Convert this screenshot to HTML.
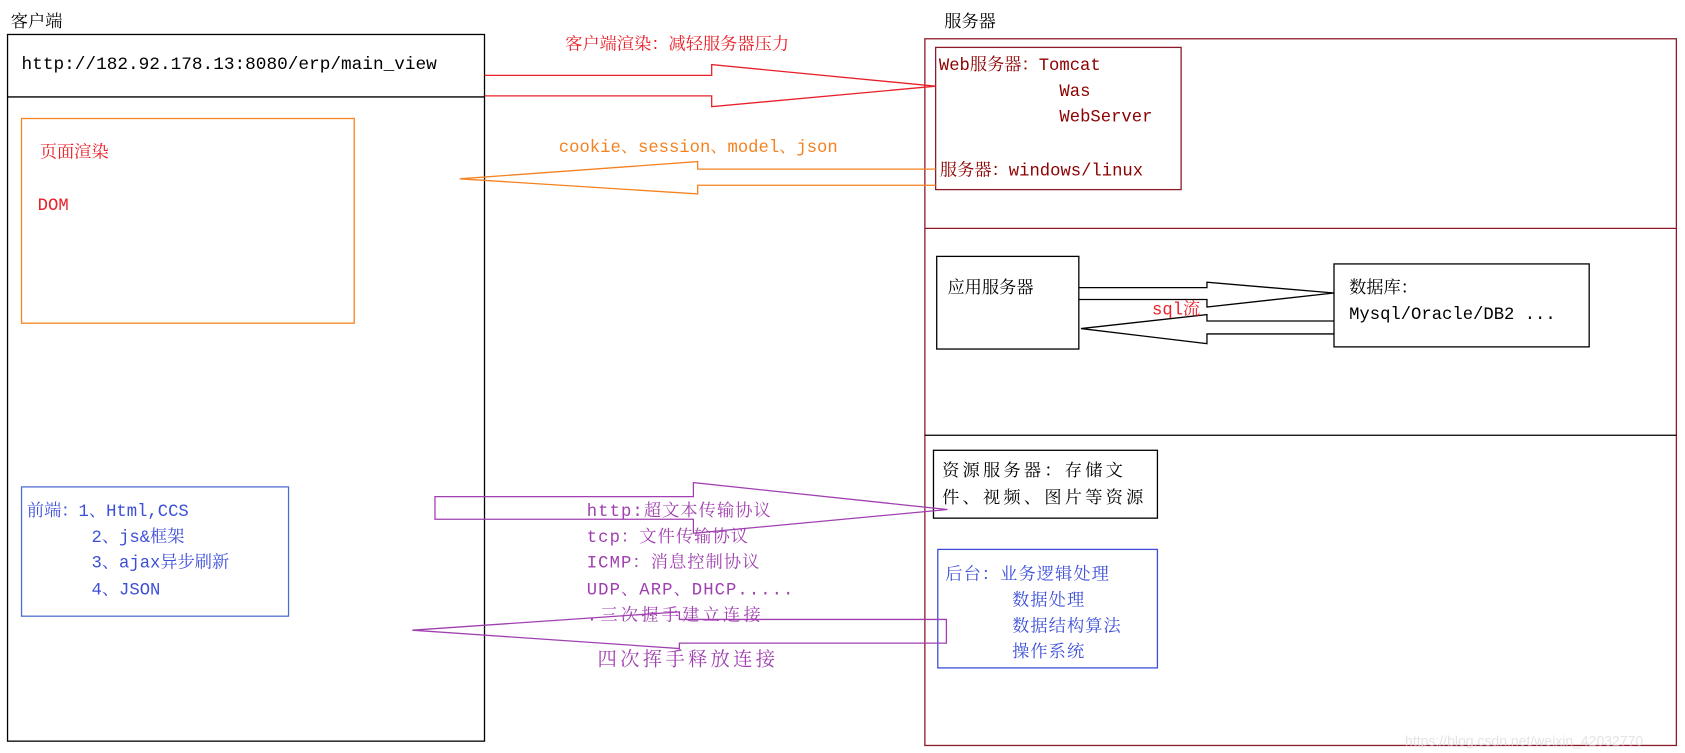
<!DOCTYPE html>
<html><head><meta charset="utf-8"><style>
html,body{margin:0;padding:0;background:#fff;width:1685px;height:753px;overflow:hidden}
svg text{font-family:"Liberation Mono","Noto Serif CJK SC","Noto Sans CJK SC",monospace;font-size:16px}
</style></head><body>
<svg width="1685" height="753" viewBox="0 0 1565 699" preserveAspectRatio="none" xmlns="http://www.w3.org/2000/svg">
<g fill="none" stroke-width="1.2">
<rect x="7" y="32" width="443" height="656" stroke="#000"/>
<line x1="7" y1="90" x2="450" y2="90" stroke="#000"/>
<rect x="20" y="110" width="309" height="190" stroke="#f58220"/>
<rect x="20" y="452" width="248" height="120" stroke="#4f6fd0"/>
<rect x="859" y="36" width="698" height="656" stroke="#8b1a2a"/>
<line x1="859" y1="212" x2="1557" y2="212" stroke="#8b1a2a"/>
<line x1="859" y1="404" x2="1557" y2="404" stroke="#000"/>
<rect x="869" y="44" width="228" height="132" stroke="#8b1a2a"/>
<rect x="870" y="238" width="132" height="86" stroke="#000"/>
<rect x="1239" y="245" width="237" height="77" stroke="#000"/>
<rect x="867" y="418" width="208" height="63" stroke="#000"/>
<rect x="871" y="510" width="204" height="110" stroke="#3d4fd8"/>
<polyline points="450,70 661,70 661,60 869,80 661,99 661,89 450,89" stroke="#e8202a"/>
<polyline points="869,157 648,157 648,150 427,166 648,180 648,172 869,172" stroke="#f58220"/>
<polyline points="1002,267 1121,267 1121,262 1239,272 1121,285 1121,278 1002,278" stroke="#000"/>
<polyline points="1239,298 1121,298 1121,292 1004,305 1121,319 1121,310 1239,310" stroke="#000"/>
<polygon points="404,461 644,461 644,448 880,473 644,495 644,482 404,482" stroke="#a040b0"/>
<polygon points="879,575 631,575 631,568 383,585 631,602 631,597 879,597" stroke="#a040b0"/>
</g>
<text x="10" y="25" fill="#000">客户端</text>
<text x="877" y="25" fill="#000">服务器</text>
<text x="20" y="64" fill="#000" style="font-size:16.5px">http://182.92.178.13:8080/erp/main_view</text>
<text x="37" y="146" fill="#e8202a">页面渲染</text>
<text x="35" y="195" fill="#e8202a">DOM</text>
<text x="525" y="46" fill="#e8202a">客户端渲染：减轻服务器压力</text>
<text x="519" y="141" fill="#f58220">cookie、session、model、json</text>
<g fill="#8b0000">
<text x="872" y="65">Web服务器：Tomcat</text>
<text x="984" y="89">Was</text>
<text x="984" y="113">WebServer</text>
<text x="873" y="163">服务器：windows/linux</text>
</g>
<text x="880" y="272" fill="#000">应用服务器</text>
<text x="1253" y="272" fill="#000">数据库：</text>
<text x="1253" y="296" fill="#000">Mysql/Oracle/DB2 ...</text>
<text x="1070" y="292" fill="#e8202a">sql流</text>
<text x="875" y="442" fill="#000" letter-spacing="3">资源服务器：存储文</text>
<text x="875" y="467" fill="#000" letter-spacing="3">件、视频、图片等资源</text>
<g fill="#3d4fd8">
<text x="878" y="538" letter-spacing="1">后台：业务逻辑处理</text>
<text x="940" y="562" letter-spacing="1">数据处理</text>
<text x="940" y="586" letter-spacing="1">数据结构算法</text>
<text x="940" y="610" letter-spacing="1">操作系统</text>
</g>
<g fill="#3d4fd8">
<text x="25" y="479">前端：1、Html,CCS</text>
<text x="85" y="503">2、js&amp;框架</text>
<text x="85" y="527">3、ajax异步刷新</text>
<text x="85" y="552">4、JSON</text>
</g>
<g fill="#a040b0">
<text x="545" y="479" letter-spacing="1">http:超文本传输协议</text>
<text x="545" y="503" letter-spacing="1">tcp：文件传输协议</text>
<text x="545" y="527" letter-spacing="1">ICMP：消息控制协议</text>
<text x="545" y="552" letter-spacing="1">UDP、ARP、DHCP.....</text>
<text x="545" y="576" letter-spacing="3">.三次握手建立连接</text>
<text x="555" y="618" style="font-size:18px" letter-spacing="3">四次挥手释放连接</text>
</g>
<text x="1305" y="692" fill="#e4e4e4" style="font-size:13px;font-family:'Liberation Sans',sans-serif">https://blog.csdn.net/weixin_42032770</text>
</svg>
</body></html>
